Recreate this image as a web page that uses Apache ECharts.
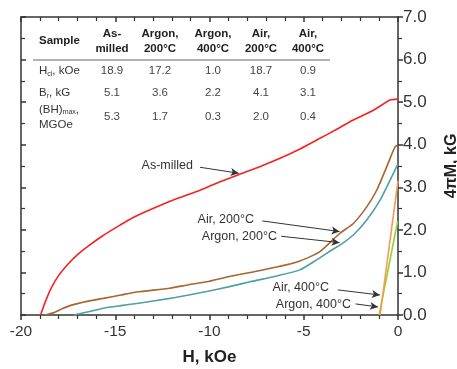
<!DOCTYPE html>
<html>
<head>
    <meta charset="utf-8">
    <title>4πM vs H</title>
    <script src="https://cdn.jsdelivr.net/npm/echarts@6/dist/echarts.min.js"></script>
    <style>
        html, body { margin: 0; padding: 0; background: #fff; }
        #main { width: 457px; height: 369px; }
    </style>
</head>
<body>
    <div id="main"></div>
    <script>
        // 曲线数据 [H (kOe), 4πM (kG)]
        const asMilled = [
            [-18.96, 0], [-18.7, 0.32], [-18.4, 0.63], [-18.0, 0.93], [-17.5, 1.2],
            [-17.0, 1.42], [-16.4, 1.63], [-15.7, 1.85], [-14.9, 2.07], [-14.0, 2.3],
            [-13.0, 2.5], [-11.92, 2.7], [-10.5, 2.93], [-9.5, 3.12], [-8.38, 3.31],
            [-7.3, 3.49], [-6.26, 3.68], [-5.2, 3.9], [-4.14, 4.15], [-3.3, 4.35],
            [-2.55, 4.54], [-1.9, 4.68], [-1.31, 4.81], [-0.8, 4.95], [-0.42, 5.05], [0, 5.07]
        ];
        const air200 = [
            [-18.73, 0], [-18.29, 0.05], [-17.9, 0.13], [-17.4, 0.22], [-16.5, 0.32],
            [-15.63, 0.39], [-14.7, 0.47], [-13.86, 0.54], [-12.1, 0.63], [-11.1, 0.71],
            [-10.15, 0.78], [-9, 0.9], [-7.85, 1.0], [-6.5, 1.12], [-5.2, 1.27],
            [-4.14, 1.49], [-3.08, 1.92], [-2.37, 2.15], [-1.66, 2.54], [-1.13, 2.93],
            [-0.6, 3.48], [-0.16, 3.95], [0, 4.0]
        ];
        const argon200 = [
            [-17.2, 0], [-16.5, 0.07], [-15.63, 0.16], [-14.7, 0.22], [-13.86, 0.27],
            [-12.1, 0.39], [-11.1, 0.47], [-10.15, 0.55], [-9, 0.66], [-7.85, 0.78],
            [-6.5, 0.91], [-5.2, 1.06], [-4.3, 1.3], [-3.43, 1.55], [-3.08, 1.64],
            [-2.37, 1.88], [-1.66, 2.23], [-0.95, 2.7], [-0.42, 3.17], [0, 3.55]
        ];
        const air400 = [[-0.95, 0], [0, 3.15]];
        const argon400 = [[-1.0, 0], [-0.02, 2.2]];

        // 表格
        const tableHeads = ['Sample', 'As-\nmilled', 'Argon,\n200°C', 'Argon,\n400°C', 'Air,\n200°C', 'Air,\n400°C'];
        const rowLabels = ['H{s|ci}, kOe', 'B{s|r}, kG', '(BH){s|max},\nMGOe'];
        const hci = [18.9, 17.2, 1.0, 18.7, 0.9];
        const br = [5.1, 3.6, 2.2, 4.1, 3.1];
        const bhMax = [5.3, 1.7, 0.3, 2.0, 0.4];

        const font = '"Liberation Sans", Arial, sans-serif';
        const colX = [112, 160, 213, 261, 308];
        const rowY = [71, 93, 117];

        const graphics = [];
        graphics.push({
            type: 'text', left: 39, top: 35,
            style: { text: tableHeads[0], font: 'bold 11.5px ' + font, fill: '#222' }
        });
        tableHeads.slice(1).forEach((h, i) => {
            graphics.push({
                type: 'text', x: colX[i], y: 41,
                style: { text: h, font: 'bold 11.5px ' + font, fill: '#222', align: 'center', verticalAlign: 'middle', lineHeight: 15 }
            });
        });
        graphics.push({
            type: 'line', shape: { x1: 33, y1: 60, x2: 330, y2: 60 },
            style: { stroke: '#999', lineWidth: 1.5 }
        });
        [hci, br, bhMax].forEach((row, r) => {
            graphics.push({
                type: 'text', x: 39, y: rowY[r],
                style: {
                    text: rowLabels[r], font: '11.5px ' + font, fill: '#333',
                    verticalAlign: 'middle', lineHeight: r === 2 ? 15 : 14,
                    rich: { s: { fontSize: 7, fill: '#333', padding: [6, 0, 0, 0], fontFamily: font } }
                }
            });
            row.forEach((v, i) => {
                graphics.push({
                    type: 'text', x: colX[i], y: rowY[r],
                    style: { text: v.toFixed(1), font: '11.5px ' + font, fill: '#444', align: 'center', verticalAlign: 'middle' }
                });
            });
        });

        // 标注文字
        const notes = [
            { text: 'As-milled', x: 193, y: 166 },
            { text: 'Air, 200°C', x: 254, y: 220 },
            { text: 'Argon, 200°C', x: 277, y: 237 },
            { text: 'Air, 400°C', x: 329, y: 288 },
            { text: 'Argon, 400°C', x: 351, y: 305 }
        ];
        notes.forEach(n => {
            graphics.push({
                type: 'text', x: n.x, y: n.y,
                style: { text: n.text, font: '12.5px ' + font, fill: '#333', align: 'right', verticalAlign: 'middle' }
            });
        });

        const arrows = [
            [[-10.5, 3.47], [-8.45, 3.33]],
            [[-7.2, 2.21], [-3.1, 1.96]],
            [[-6.2, 1.85], [-3.1, 1.7]],
            [[-3.2, 0.59], [-0.96, 0.47]],
            [[-2.25, 0.26], [-1.06, 0.19]]
        ];

        const chart = echarts.init(document.getElementById('main'));

        const axisLine = { show: true, onZero: false, lineStyle: { color: '#333', width: 1.5 } };

        chart.setOption({
            animation: false,
            grid: { left: 21, right: 59, top: 17, bottom: 54, outerBoundsMode: 'none', containLabel: false },
            xAxis: [{
                type: 'value', position: 'bottom', min: -20, max: 0, interval: 5,
                name: 'H, kOe', nameLocation: 'middle', nameGap: 34,
                nameTextStyle: { color: '#222', fontSize: 17, fontWeight: 'bold', fontFamily: font },
                axisLine: axisLine,
                axisTick: { show: true, inside: false, length: 5, lineStyle: { color: '#333', width: 1.5 } },
                minorTick: { show: true, splitNumber: 5, length: 4, lineStyle: { color: '#333', width: 1.2 } },
                axisLabel: { margin: 9, color: '#333', fontSize: 15.5, fontFamily: font },
                splitLine: { show: false }
            }, {
                type: 'value', position: 'top', min: -20, max: 0, interval: 5,
                axisLine: axisLine,
                axisTick: { show: true, inside: true, length: 5, lineStyle: { color: '#333', width: 1.5 } },
                minorTick: { show: true, splitNumber: 5, length: 4, lineStyle: { color: '#333', width: 1.2 } },
                axisLabel: { show: false },
                splitLine: { show: false }
            }],
            yAxis: [{
                type: 'value', position: 'right', min: 0, max: 7, interval: 1,
                name: '4πM, kG', nameLocation: 'middle', nameGap: 46, nameRotate: 90,
                nameTextStyle: { color: '#222', fontSize: 16, fontWeight: 'bold', fontFamily: font },
                axisLine: axisLine,
                axisTick: { show: true, inside: false, length: 5, lineStyle: { color: '#333', width: 1.5 } },
                minorTick: { show: true, splitNumber: 2, length: 4, lineStyle: { color: '#333', width: 1.2 } },
                axisLabel: { margin: 5, color: '#333', fontSize: 17, fontFamily: font, formatter: v => v.toFixed(1) },
                splitLine: { show: false }
            }, {
                type: 'value', position: 'left', min: 0, max: 7, interval: 1,
                axisLine: axisLine,
                axisTick: { show: true, inside: true, length: 5, lineStyle: { color: '#333', width: 1.5 } },
                minorTick: { show: true, splitNumber: 2, length: 4, lineStyle: { color: '#333', width: 1.2 } },
                axisLabel: { show: false },
                splitLine: { show: false }
            }],
            graphic: graphics,
            series: [
                { name: 'As-milled', type: 'line', data: asMilled, showSymbol: false, smooth: 0.2,
                  lineStyle: { color: '#f52222', width: 1.6 } },
                { name: 'Argon, 200°C', type: 'line', data: argon200, showSymbol: false, smooth: 0.2,
                  lineStyle: { color: '#4f9fa3', width: 1.6 } },
                { name: 'Air, 200°C', type: 'line', data: air200, showSymbol: false, smooth: 0.2,
                  lineStyle: { color: '#a8652e', width: 1.6 } },
                { name: 'Argon, 400°C', type: 'line', data: argon400, showSymbol: false,
                  lineStyle: { color: '#8fd62a', width: 1.6 } },
                { name: 'Air, 400°C', type: 'line', data: air400, showSymbol: false,
                  lineStyle: { color: '#f39a55', width: 1.6 },
                  markLine: {
                      silent: true, animation: false,
                      symbol: ['none', 'arrow'], symbolSize: [6, 8],
                      label: { show: false },
                      lineStyle: { color: '#333', width: 1, type: 'solid' },
                      data: arrows.map(a => [{ coord: a[0] }, { coord: a[1] }])
                  } }
            ]
        });
    </script>
</body>
</html>
